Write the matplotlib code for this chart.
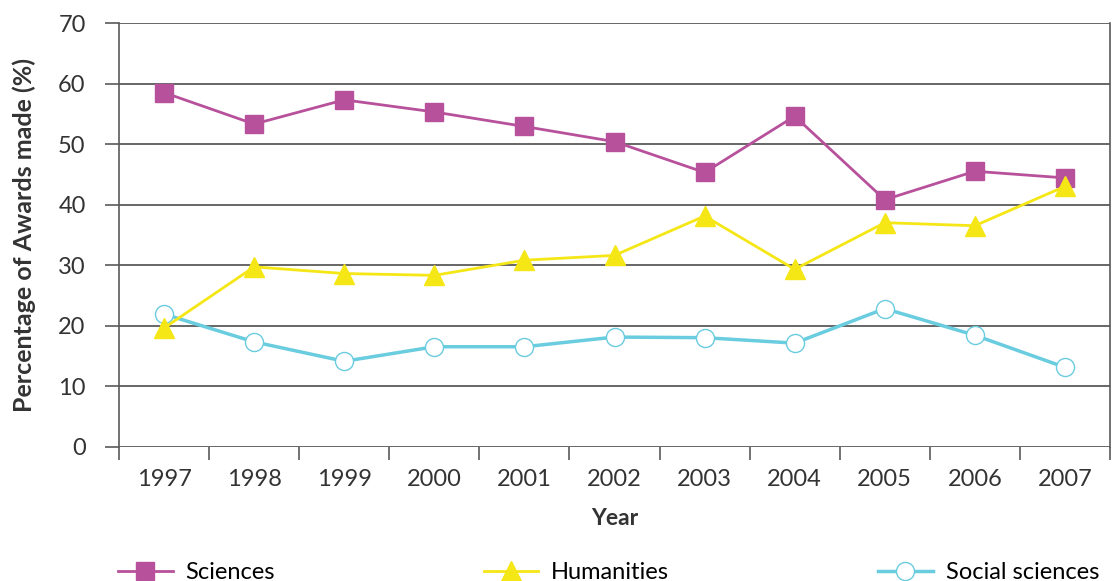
import numpy as np
import matplotlib.pyplot as plt
from matplotlib.ticker import FixedLocator

years = ['1997', '1998', '1999', '2000', '2001', '2002', '2003', '2004', '2005', '2006', '2007']
sciences = [58.5, 53.3, 57.3, 55.3, 52.9, 50.4, 45.3, 54.6, 40.8, 45.5, 44.4]
humanities = [19.6, 29.7, 28.6, 28.3, 30.8, 31.6, 38.1, 29.3, 37.0, 36.5, 43.0]
social = [21.9, 17.3, 14.1, 16.5, 16.5, 18.1, 18.0, 17.1, 22.8, 18.4, 13.1]

plt.rcParams['font.family'] = ['Lato', 'DejaVu Sans']

fig = plt.figure(figsize=(11.15, 5.81), dpi=100)
ax = fig.add_axes([119 / 1115, 1 - 446.6 / 581, (1110 - 119) / 1115, (446.6 - 23) / 581])

x = np.arange(len(years))
ax.plot(x, sciences, color='#b8519b', lw=2, marker='s', ms=13, mfc='#b8519b', mec='#b8519b',
        label='Sciences', zorder=3)
ax.plot(x, humanities, color='#f5e616', lw=2, marker='^', ms=14, mfc='#f5e616', mec='#f5e616',
        label='Humanities', zorder=4)
ax.plot(x, social, color='#6accdf', lw=2.5, marker='o', ms=13, mfc='white', mec='#6accdf', mew=1,
        label='Social sciences', zorder=3)

ax.set_xlim(-0.5, len(years) - 0.5)
ax.set_ylim(0, 70)
ax.set_yticks(np.arange(0, 71, 10))
ax.set_yticklabels([str(v) for v in range(0, 71, 10)], fontsize=17, color='#333333')
ax.yaxis.grid(True, color='#5a5a5a', lw=1.3)
ax.set_axisbelow(True)

ax.xaxis.set_major_locator(FixedLocator(np.arange(-0.5, len(years), 1.0)))
ax.xaxis.set_minor_locator(FixedLocator(x))
ax.set_xticklabels([])
ax.set_xticklabels(years, minor=True, fontsize=17, color='#333333')
ax.tick_params(axis='x', which='major', length=9, width=1.2, color='#5a5a5a')
ax.tick_params(axis='x', which='minor', length=0, pad=16)
ax.tick_params(axis='y', length=10, width=1.2, color='#5a5a5a', pad=14)

for s in ['top', 'bottom']:
    ax.spines[s].set_visible(False)
for s in ['left', 'right']:
    ax.spines[s].set_color('#5a5a5a')
    ax.spines[s].set_linewidth(1.2)

ax.set_xlabel('Year', fontsize=16.5, fontweight='bold', color='#333333', labelpad=13)
ax.set_ylabel('Percentage of Awards made (%)', fontsize=18, fontweight='bold', color='#333333',
              labelpad=16)

fig.legend(loc='lower left', bbox_to_anchor=(97 / 1115, -0.04), ncol=3, frameon=False,
           fontsize=17, handlelength=2.3, columnspacing=8.85, handletextpad=0.55)

fig.savefig('out.png', dpi=100)
